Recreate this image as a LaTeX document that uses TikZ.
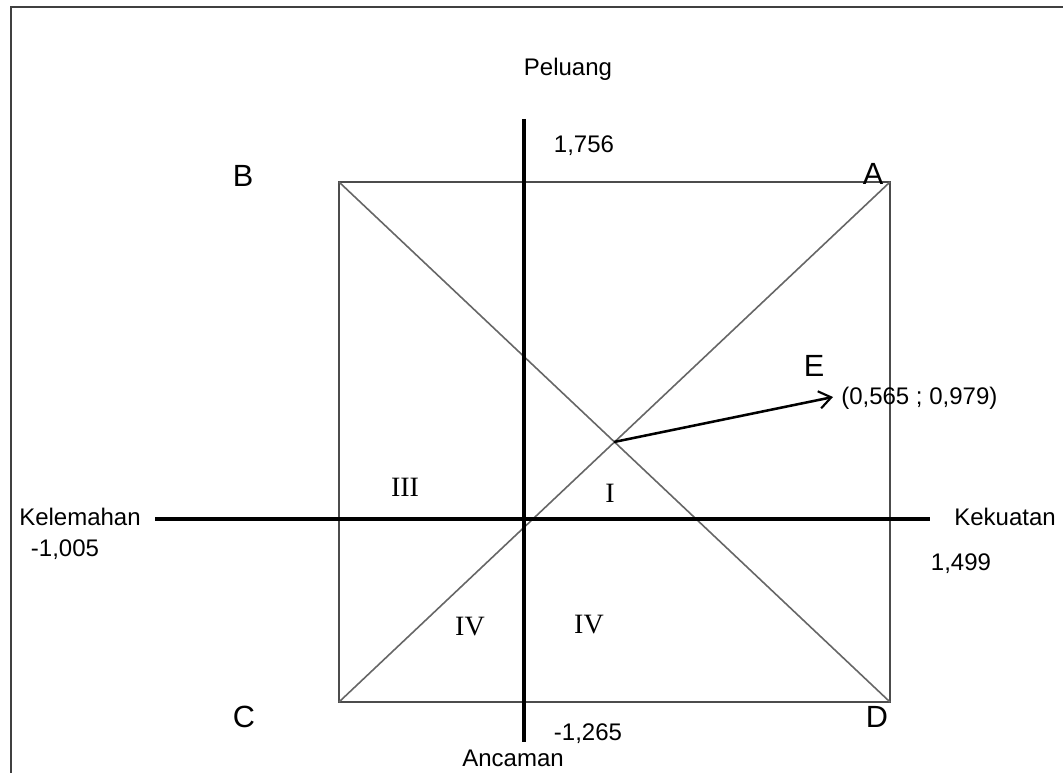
\documentclass[tikz,border=0pt]{standalone}
\usepackage{fontspec}
\setmainfont{Liberation Sans}
\newfontfamily\romanfont{Liberation Serif}
\usetikzlibrary{arrows.meta}
\begin{document}
\begin{tikzpicture}[
    x=0.75pt, y=-0.75pt,
    axis/.style={line width=2.6pt, black},
    box/.style={line width=1.5pt, draw=black!70},
    diag/.style={line width=1.2pt, draw=black!60},
    lbl/.style={inner sep=0pt, font=\fontsize{18}{20}\selectfont},
    corner/.style={inner sep=0pt, font=\fontsize{23}{25}\selectfont},
    zone/.style={inner sep=0pt, font=\romanfont\fontsize{21}{23}\selectfont}
]
  \useasboundingbox (0,0) rectangle (1063,773);
  % frame
  \draw[line width=2pt, black!75] (11,773) -- (11,7) -- (1063,7);

  % corners of the box
  \coordinate (pA) at (890,182);
  \coordinate (pB) at (339,182);
  \coordinate (pC) at (339,702);
  \coordinate (pD) at (890,702);
  \coordinate (pE) at (614,442);

  % box and diagonals
  \draw[box] (pB) rectangle (pD);
  \draw[diag] (pB) -- (pD);
  \draw[diag] (pC) -- (pA);

  % axes
  \coordinate (xl) at (155,519);
  \coordinate (xr) at (930,519);
  \coordinate (yt) at (524,119);
  \coordinate (yb) at (524,742);
  \draw[axis] (xl) -- (xr);
  \draw[axis] (yt) -- (yb);

  % labels
  \node[lbl] (peluang) at (568,69) {Peluang};
  \node[lbl] (ancaman) at (513,758) {Ancaman};
  \node[lbl] (kelemahan) at (80,517) {Kelemahan};
  \node[lbl] (kekuatan) at (1005,517) {Kekuatan};
  \node[lbl] (vtop) at (584,146) {1,756};
  \node[lbl] (vbot) at (588,734) {-1,265};
  \node[lbl] (vleft) at (65,550) {-1,005};
  \node[lbl] (vright) at (961,564) {1,499};

  \node[corner] (lA) at (873,174) {A};
  \node[corner] (lB) at (243,176) {B};
  \node[corner] (lC) at (244,717) {C};
  \node[corner] (lD) at (877,717) {D};
  \node[corner] (lE) at (814,366) {E};

  \node[zone] (z3) at (405,487) {III};
  \node[zone] (z1) at (610,493) {I};
  \node[zone] (z4a) at (470,627) {IV};
  \node[zone] (z4b) at (589,625) {IV};

  % point E
  \node[lbl, anchor=west] (val) at (841,398) {(0,565 ; 0,979)};
  \coordinate (tip) at (833,397);
  \draw[line width=1.9pt, -{Straight Barb[length=9pt, width=13pt, line width=1.6pt]}]
    (pE) -- (tip);
\end{tikzpicture}
\end{document}
